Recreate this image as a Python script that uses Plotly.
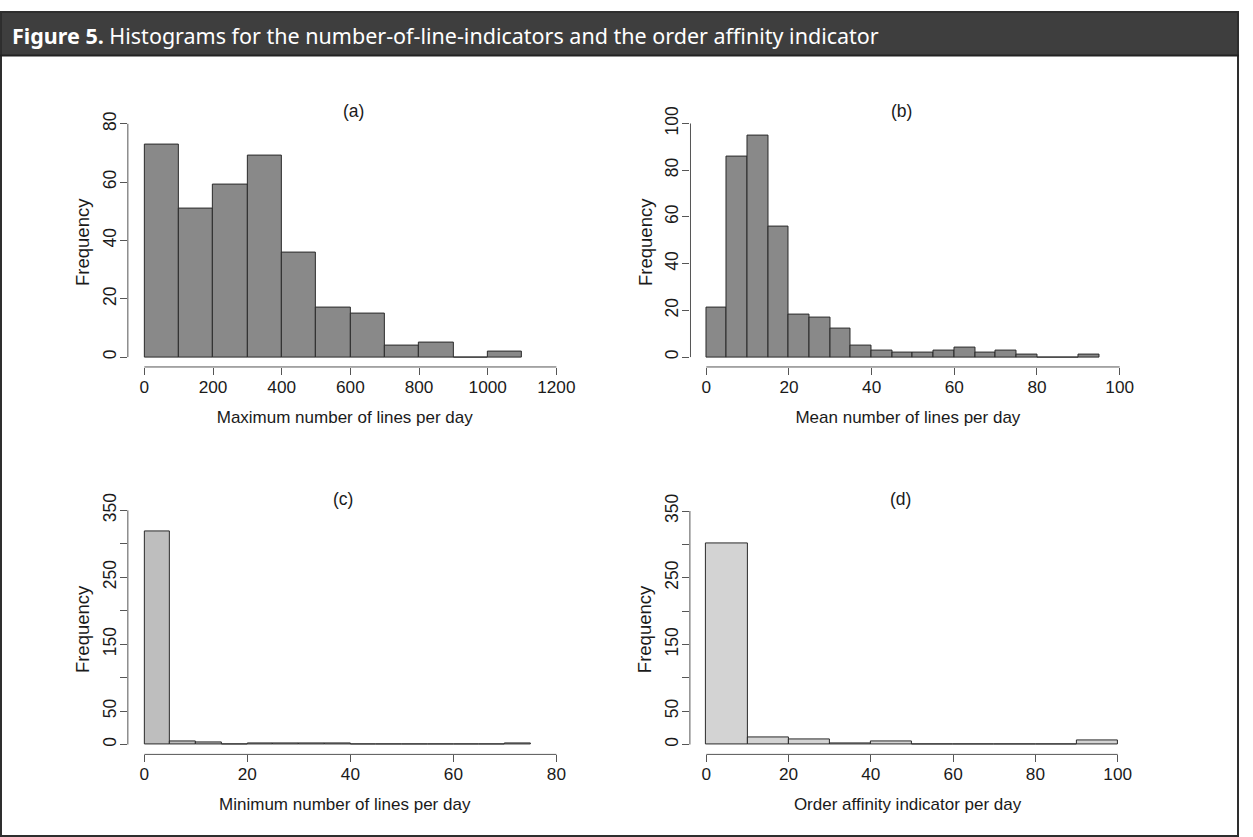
import plotly.graph_objects as go

# ---------------- data ----------------
edges_a = [0, 100, 200, 300, 400, 500, 600, 700, 800, 900, 1000, 1100]
counts_a = [73, 51, 59, 69, 36, 17, 15, 4, 5, 0, 2]

edges_b = [0, 5, 10, 15, 20, 25, 30, 35, 40, 45, 50, 55, 60, 65, 70, 75, 80, 85, 90, 95]
counts_b = [21, 86, 95, 56, 18, 17, 12, 5, 3, 2, 2, 3, 4, 2, 3, 1, 0, 0, 1]

edges_c = [0, 5, 10, 15, 20, 25, 30, 35, 40, 45, 50, 55, 60, 65, 70, 75]
counts_c = [318, 4, 3, 0, 1, 2, 2, 1, 0, 0, 0, 0, 0, 0, 1]

edges_d = [0, 10, 20, 30, 40, 50, 60, 70, 80, 90, 100]
counts_d = [301, 11, 7, 2, 4, 0, 0, 0, 0, 6]

xticks_a = [0, 200, 400, 600, 800, 1000, 1200]
yticks_a = [0, 20, 40, 60, 80]
xticks_b = [0, 20, 40, 60, 80, 100]
yticks_b = [0, 20, 40, 60, 80, 100]
xticks_c = [0, 20, 40, 60, 80]
yticks_c = [0, 50, 100, 150, 200, 250, 300, 350]
ytext_c = ["0", "50", "", "150", "", "250", "", "350"]
xticks_d = [0, 20, 40, 60, 80, 100]
yticks_d = [0, 50, 100, 150, 200, 250, 300, 350]
ytext_d = ["0", "50", "", "150", "", "250", "", "350"]

panel_titles = ["(a)", "(b)", "(c)", "(d)"]
x_titles = ["Maximum number of lines per day", "Mean number of lines per day",
            "Minimum number of lines per day", "Order affinity indicator per day"]
y_title = "Frequency"
fig_title = "<b>Figure 5.</b> Histograms for the number-of-line-indicators and the order affinity indicator"

# ---------------- layout constants ----------------
W, H = 1253, 837
AXC = "#555555"
TXT = "#1a1a1a"
FONT = "Liberation Sans, Arial, sans-serif"

panels = [
    dict(edges=edges_a, counts=counts_a, fill="#898989", xt=xticks_a, yt=yticks_a, ytxt=None,
         xr=[-48.1, 1215.4], yr=[-3.384, 82.13], dx=[129.3, 568], dy=[108, 360.7]),
    dict(edges=edges_b, counts=counts_b, fill="#898989", xt=xticks_b, yt=yticks_b, ytxt=None,
         xr=[-3.828, 101.36], yr=[-4.225, 102.53], dx=[698.3, 1138], dy=[108, 360.7]),
    dict(edges=edges_c, counts=counts_c, fill="#bebebe", xt=xticks_c, yt=yticks_c, ytxt=ytext_c,
         xr=[-3.206, 81.02], yr=[-14.75, 358.85], dx=[129.3, 568], dy=[500, 753.3]),
    dict(edges=edges_d, counts=counts_d, fill="#d3d3d3", xt=xticks_d, yt=yticks_d, ytxt=ytext_d,
         xr=[-3.99, 101.85], yr=[-14.79, 359.9], dx=[697.7, 1138], dy=[500, 753.3]),
]

fig = go.Figure()
shapes = []
annotations = []

for i, p in enumerate(panels):
    n = i + 1
    xa = "x" if n == 1 else f"x{n}"
    ya = "y" if n == 1 else f"y{n}"
    e = p["edges"]
    centers = [(e[k] + e[k + 1]) / 2 for k in range(len(e) - 1)]
    widths = [e[k + 1] - e[k] for k in range(len(e) - 1)]
    fig.add_trace(go.Bar(
        x=centers, y=p["counts"], width=widths,
        marker=dict(color=p["fill"], line=dict(color="#2a2a2a", width=1)),
        xaxis=xa, yaxis=ya, showlegend=False, hoverinfo="x+y",
    ))
    xdom = [p["dx"][0] / W, p["dx"][1] / W]
    ydom = [1 - p["dy"][1] / H, 1 - p["dy"][0] / H]
    xkey = "xaxis" if n == 1 else f"xaxis{n}"
    ykey = "yaxis" if n == 1 else f"yaxis{n}"
    fig.update_layout(**{
        xkey: dict(domain=xdom, range=p["xr"], anchor=ya, showline=False, showgrid=False,
                   zeroline=False, ticks="outside", ticklen=7, tickwidth=1, tickcolor=AXC,
                   tickvals=p["xt"], ticktext=[str(v) for v in p["xt"]],
                   ticklabelstandoff=-3,
                   tickfont=dict(family=FONT, size=17.2, color=TXT),
                   title=dict(text=x_titles[i], font=dict(family=FONT, size=17, color=TXT), standoff=15)),
        ykey: dict(domain=ydom, range=p["yr"], anchor=xa, showline=False, showgrid=False,
                   zeroline=False, ticks="outside", ticklen=7, tickwidth=1, tickcolor=AXC,
                   tickvals=p["yt"],
                   ticktext=p["ytxt"] if p["ytxt"] else [str(v) for v in p["yt"]],
                   tickangle=-90, ticklabelstandoff=-3,
                   tickfont=dict(family=FONT, size=17.5, color=TXT),
                   title=dict(text=y_title, font=dict(family=FONT, size=18.5, color=TXT), standoff=5)),
    })
    # R-style axis lines spanning first to last tick
    shapes.append(dict(type="line", xref=xa, yref=f"{ya} domain", x0=p["xt"][0], x1=p["xt"][-1],
                       y0=0, y1=0, line=dict(color=AXC, width=1)))
    shapes.append(dict(type="line", xref=f"{xa} domain", yref=ya, x0=0, x1=0,
                       y0=p["yt"][0], y1=p["yt"][-1], line=dict(color=AXC, width=1)))

# panel titles
title_pos = [(357, 101), (912, 101), (347, 495), (911, 495)]
for t, (px, py) in zip(panel_titles, title_pos):
    annotations.append(dict(text=t, x=px / W, y=1 - py / H, xref="paper", yref="paper",
                            showarrow=False, xanchor="center", yanchor="middle",
                            font=dict(family=FONT, size=17.5, color=TXT)))

# header bar and frame
shapes.insert(0, dict(type="rect", xref="paper", yref="paper", x0=0, x1=1, y0=1 - 45 / H, y1=1,
                      fillcolor="#3e3e3e", line=dict(width=0), layer="below"))
shapes.append(dict(type="rect", xref="paper", yref="paper", x0=1 / W, x1=1 - 1 / W, y0=1 / H, y1=1 - 1 / H,
                   fillcolor="rgba(0,0,0,0)", line=dict(color="#2e2e2e", width=2)))
shapes.append(dict(type="line", xref="paper", yref="paper", x0=0, x1=1, y0=1 - 45 / H, y1=1 - 45 / H,
                   line=dict(color="#222222", width=2)))

annotations.append(dict(text=fig_title, x=10 / W, y=1 - 25 / H, xref="paper", yref="paper",
                        showarrow=False, xanchor="left", yanchor="middle",
                        font=dict(family="Noto Sans, Open Sans, sans-serif", size=21.5, color="white")))

fig.update_layout(width=W, height=H, autosize=False, margin=dict(l=0, r=0, t=0, b=0),
                  paper_bgcolor="white", plot_bgcolor="white", bargap=0,
                  shapes=shapes, annotations=annotations)

post = (
    "document.documentElement.style.margin='0';document.documentElement.style.padding='0';"
    "document.documentElement.style.overflow='hidden';"
    "document.body.style.margin='0';document.body.style.padding='0';document.body.style.overflow='hidden';"
    "var gd=document.getElementById('{plot_id}');"
    "gd.style.position='fixed';gd.style.left='0px';gd.style.top='0px';"
)

fig.write_html("out.html", config={"displayModeBar": False, "responsive": False},
               post_script=post)
